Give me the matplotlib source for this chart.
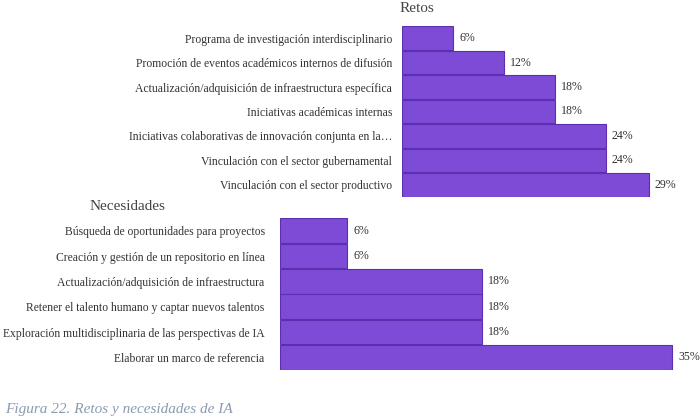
import matplotlib
matplotlib.use("Agg")
import matplotlib.pyplot as plt

retos_labels = ["Programa de investigación interdisciplinario",
                "Promoción de eventos académicos internos de difusión",
                "Actualización/adquisición de infraestructura específica",
                "Iniciativas académicas internas",
                "Iniciativas colaborativas de innovación conjunta en la…",
                "Vinculación con el sector gubernamental",
                "Vinculación con el sector productivo"]
retos_values = [6, 12, 18, 18, 24, 24, 29]

nec_labels = ["Búsqueda de oportunidades para proyectos",
              "Creación y gestión de un repositorio en línea",
              "Actualización/adquisición de infraestructura",
              "Retener el talento humano y captar nuevos talentos",
              "Exploración multidisciplinaria de las perspectivas de IA",
              "Elaborar un marco de referencia"]
nec_values = [6, 6, 18, 18, 18, 35]

plt.rcParams["font.family"] = "Liberation Serif"
W, H = 700, 420
fig = plt.figure(figsize=(7, 4.2), dpi=100)
fig.patch.set_facecolor("white")

def panel(x0, y0, y1, xmax, pxper, labels, values, pad):
    ax = fig.add_axes([x0 / W, 1 - y1 / H, xmax * pxper / W, (y1 - y0) / H])
    ys = list(range(len(values)))
    ax.barh(ys, values, height=0.97, color="#7d4bd6", edgecolor="#5a2fb0", linewidth=0.8)
    ax.set_ylim(len(values) - 0.5, -0.5)
    ax.set_xlim(0, xmax)
    ax.set_yticks(ys)
    ax.set_yticklabels(labels, fontsize=8.4, color="#333333")
    ax.tick_params(axis="y", length=0, pad=pad)
    ax.set_xticks([])
    for s in ax.spines.values():
        s.set_visible(False)
    for y, v in zip(ys, values):
        ax.text(v + 6 / pxper, y, f"{v}%", va="center", ha="left", fontsize=8.6, color="#333333")
    return ax

panel(402, 26, 197, 30, 8.5, retos_labels, retos_values, 7)
panel(280, 218, 370, 36, 11.2, nec_labels, nec_values, 11)

fig.text(400 / W, 1 - 8 / H, "Retos", fontsize=11, color="#444444", va="center", ha="left")
fig.text(90 / W, 1 - 206 / H, "Necesidades", fontsize=11, color="#444444", va="center", ha="left")
fig.text(5 / W, 1 - 409 / H, "Figura 22. Retos y necesidades de IA", fontsize=11,
         color="#8a9bb0", style="italic", va="center", ha="left")

fig.savefig("out.png", dpi=100)
